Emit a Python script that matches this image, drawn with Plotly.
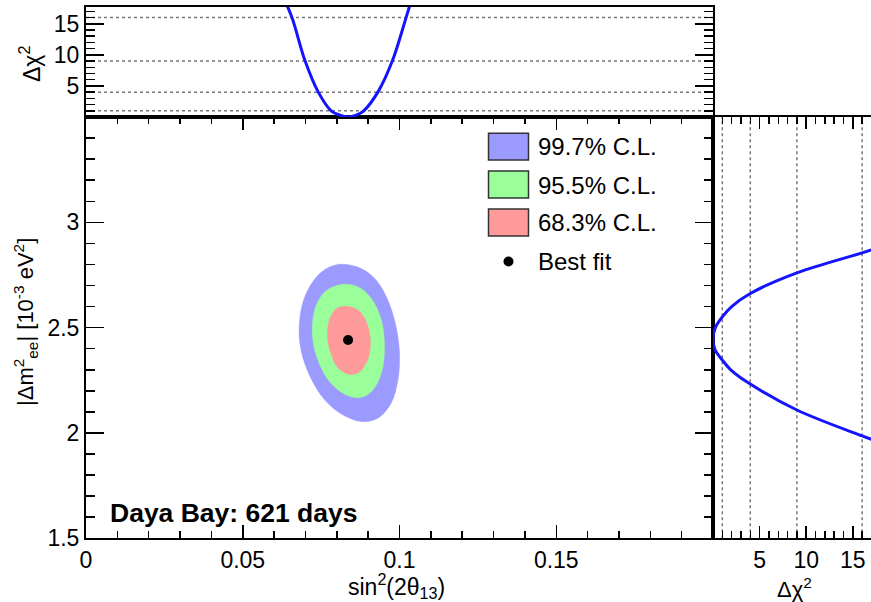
import plotly.graph_objects as go

W, H = 871, 602

# ---------------- data ----------------
# 99.7% C.L. contour boundary (sin^2(2theta13), |dm2_ee| [1e-3 eV^2])
c997_x = [0.0815, 0.0879, 0.0926, 0.0963, 0.0989, 0.1000, 0.0995, 0.0973, 0.0931,
          0.0879, 0.0820, 0.0762, 0.0715, 0.0686, 0.0680, 0.0694, 0.0731, 0.0773, 0.0815]
c997_y = [2.801, 2.780, 2.725, 2.630, 2.504, 2.378, 2.251, 2.141, 2.070,
          2.054, 2.085, 2.156, 2.267, 2.393, 2.504, 2.630, 2.733, 2.785, 2.801]
# 95.5% C.L. contour
c955_x = [0.0815, 0.0868, 0.0910, 0.0942, 0.0952, 0.0942, 0.0910, 0.0868,
          0.0820, 0.0773, 0.0736, 0.0722, 0.0731, 0.0762, 0.0815]
c955_y = [2.705, 2.693, 2.638, 2.536, 2.409, 2.283, 2.196, 2.167,
          2.188, 2.251, 2.362, 2.472, 2.591, 2.670, 2.705]
# 68.3% C.L. contour
c683_x = [0.0826, 0.0868, 0.0894, 0.0907, 0.0900, 0.0873, 0.0842,
          0.0805, 0.0781, 0.0770, 0.0778, 0.0799, 0.0826]
c683_y = [2.602, 2.583, 2.528, 2.441, 2.354, 2.291, 2.278,
          2.307, 2.378, 2.464, 2.543, 2.591, 2.602]
# best fit
best_fit_sin2 = [0.0836]
best_fit_dm2 = [2.441]

# 1-D Delta chi^2 profile vs sin^2(2theta13)
scan_sin2 = [0.0630, 0.0657, 0.0699, 0.0741, 0.0782, 0.0810, 0.0836,
             0.0862, 0.0886, 0.0931, 0.0977, 0.1021, 0.1045]
scan_sin2_chi2 = [19.2, 16.0, 9.0, 4.0, 1.0, 0.3, 0.0,
                  0.3, 1.0, 4.0, 9.0, 16.0, 20.0]
# 1-D Delta chi^2 profile vs |dm2_ee|
scan_dm2 = [1.960, 1.986, 2.109, 2.232, 2.300, 2.346, 2.395, 2.445,
            2.500, 2.551, 2.600, 2.662, 2.760, 2.855, 2.880]
scan_dm2_chi2 = [17.6, 16.0, 9.0, 4.0, 1.9, 1.0, 0.22, 0.0,
                 0.25, 1.0, 2.0, 4.0, 9.0, 16.0, 17.7]

chi2_levels = [1, 4, 9, 16]
x_tick_vals = [0, 0.05, 0.1, 0.15]
x_tick_text = ["0", "0.05", "0.1", "0.15"]
y_tick_vals = [1.5, 2, 2.5, 3]
y_tick_text = ["1.5", "2", "2.5", "3"]
chi2_tick_vals = [5, 10, 15]
chi2_tick_text = ["5", "10", "15"]
legend_labels = ["99.7% C.L.", "95.5% C.L.", "68.3% C.L.", "Best fit"]
cl_colors = ["#9a9aff", "#9aff9a", "#ff9a9a"]

# ---------------- layout helpers ----------------
def px_x(p):
    return p / W

def px_y(p):
    return 1 - p / H

FONT = "Liberation Sans, Arial, Helvetica, sans-serif"
TICKFONT = dict(family=FONT, size=23, color="black")

fig = go.Figure()

for xs, ys, col, name in [(c997_x, c997_y, cl_colors[0], legend_labels[0]),
                          (c955_x, c955_y, cl_colors[1], legend_labels[1]),
                          (c683_x, c683_y, cl_colors[2], legend_labels[2])]:
    fig.add_trace(go.Scatter(x=xs, y=ys, mode="lines", fill="toself",
                             fillcolor=col, line=dict(color=col, width=0.5, shape="spline"),
                             name=name, showlegend=False, hoverinfo="skip",
                             xaxis="x", yaxis="y"))

fig.add_trace(go.Scatter(x=best_fit_sin2, y=best_fit_dm2, mode="markers",
                         marker=dict(color="black", size=10), name=legend_labels[3],
                         showlegend=False, xaxis="x", yaxis="y"))

fig.add_trace(go.Scatter(x=scan_sin2, y=scan_sin2_chi2, mode="lines",
                         line=dict(color="#1414ff", width=3, shape="spline"),
                         showlegend=False, xaxis="x2", yaxis="y2"))

fig.add_trace(go.Scatter(x=scan_dm2_chi2, y=scan_dm2, mode="lines",
                         line=dict(color="#1414ff", width=3, shape="spline"),
                         showlegend=False, xaxis="x3", yaxis="y3"))

main_xdom = [px_x(86), px_x(713)]
right_xdom = [px_x(713), 1.0]
main_ydom = [px_y(538.3), px_y(117)]
top_ydom = [px_y(117), px_y(6.7)]

axis_common = dict(showline=True, linecolor="black", linewidth=2,
                   showgrid=False, zeroline=False, tickcolor="black",
                   tickwidth=1.5, tickfont=TICKFONT, automargin=False)

fig.update_layout(
    width=W, height=H,
    margin=dict(l=0, r=0, t=0, b=0, pad=0),
    paper_bgcolor="white", plot_bgcolor="white",
    font=dict(family=FONT, color="black"),
    hovermode=False,
    xaxis=dict(domain=main_xdom, range=[0, 0.2], anchor="y",
               tickmode="array", tickvals=x_tick_vals, ticktext=x_tick_text,
               ticks="inside", ticklen=13, mirror="ticks",
               minor=dict(ticks="inside", ticklen=7, dtick=0.01, tick0=0,
                          tickcolor="black", tickwidth=1.5),
               **axis_common),
    yaxis=dict(domain=main_ydom, range=[1.5, 3.5], anchor="x",
               tickmode="array", tickvals=y_tick_vals, ticktext=y_tick_text,
               ticks="inside", ticklen=18, mirror="ticks",
               minor=dict(ticks="inside", ticklen=9, dtick=0.1, tick0=1.5,
                          tickcolor="black", tickwidth=1.5),
               **axis_common),
    xaxis2=dict(domain=main_xdom, range=[0, 0.2], anchor="y2",
                showticklabels=False, ticks="", mirror=True,
                **axis_common),
    yaxis2=dict(domain=top_ydom, range=[0, 17.75], anchor="x2",
                tickmode="array", tickvals=chi2_tick_vals, ticktext=chi2_tick_text,
                ticks="inside", ticklen=18, mirror="ticks",
                minor=dict(ticks="inside", ticklen=9, dtick=1, tick0=0,
                           tickcolor="black", tickwidth=1.5),
                **axis_common),
    xaxis3=dict(domain=right_xdom, range=[0, 16.95], anchor="y3",
                tickmode="array", tickvals=chi2_tick_vals, ticktext=chi2_tick_text,
                ticks="inside", ticklen=12, mirror="ticks",
                minor=dict(ticks="inside", ticklen=7, dtick=1, tick0=0,
                           tickcolor="black", tickwidth=1.5),
                **axis_common),
    yaxis3=dict(domain=main_ydom, range=[1.5, 3.5], anchor="x3",
                showticklabels=False, ticks="",
                **axis_common),
)

shapes = []
for lv in chi2_levels:
    shapes.append(dict(type="line", xref="x2 domain", yref="y2", x0=0, x1=1, y0=lv, y1=lv,
                       line=dict(color="#777777", width=1.5, dash="dot"), layer="below"))
    shapes.append(dict(type="line", xref="x3", yref="y3 domain", x0=lv, x1=lv, y0=0, y1=1,
                       line=dict(color="#777777", width=1.5, dash="dot"), layer="below"))

# manual legend (ROOT style, no border)
box_rows = [(133.3, 160), (171, 198), (209, 236)]
for (t, b), col in zip(box_rows, cl_colors):
    shapes.append(dict(type="rect", xref="paper", yref="paper",
                       x0=px_x(488.5), x1=px_x(528.5), y0=px_y(b), y1=px_y(t),
                       fillcolor=col, line=dict(color="#333333", width=1.5)))
shapes.append(dict(type="circle", xref="paper", yref="paper",
                   x0=px_x(503.5), x1=px_x(513.5), y0=px_y(266.5), y1=px_y(256.5),
                   fillcolor="black", line=dict(color="black", width=0)))
fig.update_layout(shapes=shapes)

ann = []
text_rows = [146.7, 185, 222.5, 261.7]
for lab, yy in zip(legend_labels, text_rows):
    ann.append(dict(text=lab, x=px_x(536), y=px_y(yy), xref="paper", yref="paper",
                    xanchor="left", yanchor="middle", showarrow=False,
                    font=dict(family=FONT, size=24, color="black")))

ann.append(dict(text="<b>Daya Bay: 621 days</b>", x=px_x(108), y=px_y(513),
                xref="paper", yref="paper", xanchor="left", yanchor="middle",
                showarrow=False, font=dict(family=FONT, size=26.5, color="black")))
ann.append(dict(text="sin<sup>2</sup>(2θ<sub>13</sub>)", x=px_x(447), y=px_y(586),
                xref="paper", yref="paper", xanchor="right", yanchor="middle",
                showarrow=False, font=dict(family=FONT, size=23, color="black")))
ann.append(dict(text="|Δm<sup>2</sup><sub>ee</sub>| [10<sup>-3</sup> eV<sup>2</sup>]",
                x=px_x(26), y=px_y(322), xref="paper", yref="paper",
                xanchor="center", yanchor="middle", textangle=-90,
                showarrow=False, font=dict(family=FONT, size=22, color="black")))
ann.append(dict(text="Δχ<sup>2</sup>", x=px_x(30), y=px_y(64), xref="paper", yref="paper",
                xanchor="center", yanchor="middle", textangle=-90,
                showarrow=False, font=dict(family=FONT, size=23, color="black")))
ann.append(dict(text="Δχ<sup>2</sup>", x=px_x(794), y=px_y(588), xref="paper", yref="paper",
                xanchor="center", yanchor="middle",
                showarrow=False, font=dict(family=FONT, size=22, color="black")))
fig.update_layout(annotations=ann)

fig.write_html("out.html",
               config={"displayModeBar": False, "staticPlot": True},
               post_script="document.body.style.margin='0';document.body.style.overflow='hidden';")
